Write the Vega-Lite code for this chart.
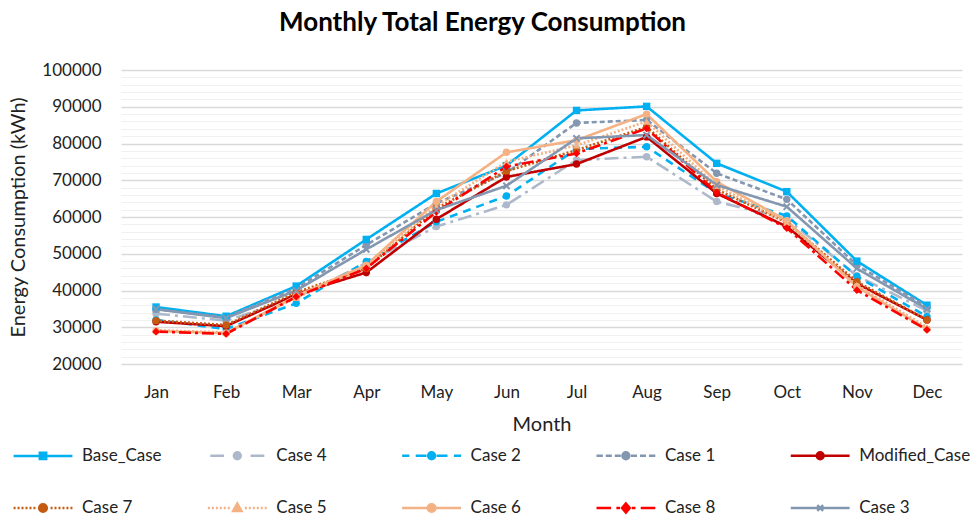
{
  "$schema": "https://vega.github.io/schema/vega-lite/v6.json",
  "width": 841,
  "height": 294,
  "autosize": {"type": "none"},
  "padding": {"left": 121, "top": 70, "right": 13, "bottom": 154},
  "background": "white",
  "config": {
    "font": "Lato",
    "view": {"stroke": null},
    "axis": {"labelFont": "Lato", "titleFont": "Lato", "labelColor": "#222222", "titleColor": "#222222", "titleFontWeight": "normal"},
    "legend": {"labelFont": "Lato"}
  },
  "title": {
    "text": "Monthly Total Energy Consumption",
    "font": "Lato",
    "fontSize": 26,
    "fontWeight": "bold",
    "color": "#000000",
    "anchor": "middle",
    "dx": -59,
    "offset": 25
  },
  "data": {
    "values": [
      {"m":"Jan","s":"Base_Case","v":35500},{"m":"Feb","s":"Base_Case","v":33000},{"m":"Mar","s":"Base_Case","v":41200},{"m":"Apr","s":"Base_Case","v":53900},{"m":"May","s":"Base_Case","v":66400},{"m":"Jun","s":"Base_Case","v":74000},{"m":"Jul","s":"Base_Case","v":89000},{"m":"Aug","s":"Base_Case","v":90100},{"m":"Sep","s":"Base_Case","v":74600},{"m":"Oct","s":"Base_Case","v":66900},{"m":"Nov","s":"Base_Case","v":48000},{"m":"Dec","s":"Base_Case","v":36000},
      {"m":"Jan","s":"Case 4","v":33700},{"m":"Feb","s":"Case 4","v":31800},{"m":"Mar","s":"Case 4","v":38000},{"m":"Apr","s":"Case 4","v":47500},{"m":"May","s":"Case 4","v":57400},{"m":"Jun","s":"Case 4","v":63300},{"m":"Jul","s":"Case 4","v":75500},{"m":"Aug","s":"Case 4","v":76400},{"m":"Sep","s":"Case 4","v":64200},{"m":"Oct","s":"Case 4","v":59500},{"m":"Nov","s":"Case 4","v":44000},{"m":"Dec","s":"Case 4","v":34500},
      {"m":"Jan","s":"Case 2","v":32000},{"m":"Feb","s":"Case 2","v":29500},{"m":"Mar","s":"Case 2","v":36500},{"m":"Apr","s":"Case 2","v":47900},{"m":"May","s":"Case 2","v":58700},{"m":"Jun","s":"Case 2","v":65700},{"m":"Jul","s":"Case 2","v":78500},{"m":"Aug","s":"Case 2","v":79100},{"m":"Sep","s":"Case 2","v":66500},{"m":"Oct","s":"Case 2","v":60300},{"m":"Nov","s":"Case 2","v":43800},{"m":"Dec","s":"Case 2","v":32900},
      {"m":"Jan","s":"Case 1","v":34900},{"m":"Feb","s":"Case 1","v":32700},{"m":"Mar","s":"Case 1","v":40600},{"m":"Apr","s":"Case 1","v":52400},{"m":"May","s":"Case 1","v":63700},{"m":"Jun","s":"Case 1","v":72000},{"m":"Jul","s":"Case 1","v":85600},{"m":"Aug","s":"Case 1","v":86400},{"m":"Sep","s":"Case 1","v":71900},{"m":"Oct","s":"Case 1","v":64800},{"m":"Nov","s":"Case 1","v":46900},{"m":"Dec","s":"Case 1","v":35600},
      {"m":"Jan","s":"Modified_Case","v":31500},{"m":"Feb","s":"Modified_Case","v":30300},{"m":"Mar","s":"Modified_Case","v":39000},{"m":"Apr","s":"Modified_Case","v":44900},{"m":"May","s":"Modified_Case","v":59400},{"m":"Jun","s":"Modified_Case","v":70900},{"m":"Jul","s":"Modified_Case","v":74400},{"m":"Aug","s":"Modified_Case","v":81800},{"m":"Sep","s":"Modified_Case","v":66400},{"m":"Oct","s":"Modified_Case","v":57400},{"m":"Nov","s":"Modified_Case","v":41900},{"m":"Dec","s":"Modified_Case","v":32000},
      {"m":"Jan","s":"Case 7","v":31800},{"m":"Feb","s":"Case 7","v":30600},{"m":"Mar","s":"Case 7","v":39500},{"m":"Apr","s":"Case 7","v":46000},{"m":"May","s":"Case 7","v":62300},{"m":"Jun","s":"Case 7","v":72500},{"m":"Jul","s":"Case 7","v":78200},{"m":"Aug","s":"Case 7","v":84500},{"m":"Sep","s":"Case 7","v":67500},{"m":"Oct","s":"Case 7","v":58500},{"m":"Nov","s":"Case 7","v":42400},{"m":"Dec","s":"Case 7","v":32000},
      {"m":"Jan","s":"Case 5","v":29200},{"m":"Feb","s":"Case 5","v":28600},{"m":"Mar","s":"Case 5","v":38000},{"m":"Apr","s":"Case 5","v":46500},{"m":"May","s":"Case 5","v":63000},{"m":"Jun","s":"Case 5","v":75000},{"m":"Jul","s":"Case 5","v":79500},{"m":"Aug","s":"Case 5","v":86000},{"m":"Sep","s":"Case 5","v":68500},{"m":"Oct","s":"Case 5","v":58500},{"m":"Nov","s":"Case 5","v":41500},{"m":"Dec","s":"Case 5","v":30000},
      {"m":"Jan","s":"Case 6","v":29000},{"m":"Feb","s":"Case 6","v":28400},{"m":"Mar","s":"Case 6","v":38500},{"m":"Apr","s":"Case 6","v":46900},{"m":"May","s":"Case 6","v":64200},{"m":"Jun","s":"Case 6","v":77600},{"m":"Jul","s":"Case 6","v":80900},{"m":"Aug","s":"Case 6","v":88000},{"m":"Sep","s":"Case 6","v":69600},{"m":"Oct","s":"Case 6","v":59000},{"m":"Nov","s":"Case 6","v":41000},{"m":"Dec","s":"Case 6","v":29500},
      {"m":"Jan","s":"Case 8","v":28800},{"m":"Feb","s":"Case 8","v":28200},{"m":"Mar","s":"Case 8","v":38300},{"m":"Apr","s":"Case 8","v":46000},{"m":"May","s":"Case 8","v":61400},{"m":"Jun","s":"Case 8","v":73700},{"m":"Jul","s":"Case 8","v":77300},{"m":"Aug","s":"Case 8","v":84100},{"m":"Sep","s":"Case 8","v":66700},{"m":"Oct","s":"Case 8","v":57000},{"m":"Nov","s":"Case 8","v":40100},{"m":"Dec","s":"Case 8","v":29300},
      {"m":"Jan","s":"Case 3","v":34900},{"m":"Feb","s":"Case 3","v":32500},{"m":"Mar","s":"Case 3","v":40000},{"m":"Apr","s":"Case 3","v":51200},{"m":"May","s":"Case 3","v":61900},{"m":"Jun","s":"Case 3","v":68500},{"m":"Jul","s":"Case 3","v":81400},{"m":"Aug","s":"Case 3","v":82300},{"m":"Sep","s":"Case 3","v":68700},{"m":"Oct","s":"Case 3","v":62800},{"m":"Nov","s":"Case 3","v":46000},{"m":"Dec","s":"Case 3","v":35000}
    ]
  },
  "encoding": {
    "x": {
      "field": "m", "type": "ordinal",
      "scale": {"type": "point", "padding": 0.5, "domain": ["Jan","Feb","Mar","Apr","May","Jun","Jul","Aug","Sep","Oct","Nov","Dec"]},
      "axis": {"title": "Month", "labelAngle": 0, "labelFontSize": 17, "labelPadding": 20, "titleFontSize": 20, "titlePadding": 14, "domain": false, "ticks": false, "grid": false}
    },
    "y": {
      "field": "v", "type": "quantitative",
      "scale": {"domain": [20000, 100000], "nice": false, "zero": false},
      "axis": {
        "title": "Energy Consumption (kWh)",
        "values": [20000,22000,24000,26000,28000,30000,32000,34000,36000,38000,40000,42000,44000,46000,48000,50000,52000,54000,56000,58000,60000,62000,64000,66000,68000,70000,72000,74000,76000,78000,80000,82000,84000,86000,88000,90000,92000,94000,96000,98000,100000],
        "format": "d",
        "labelExpr": "datum.value % 10000 === 0 ? datum.label : ''",
        "labelFontSize": 17, "labelPadding": 20,
        "titleFontSize": 20, "titlePadding": 13,
        "domain": false, "ticks": false, "grid": true,
        "gridColor": {"condition": {"test": "datum.value % 10000 === 0", "value": "#d9d9d9"}, "value": "#f0f0f0"},
        "gridWidth": {"condition": {"test": "datum.value % 10000 === 0", "value": 1.4}, "value": 1.2}
      }
    }
  },
  "layer": [
    {
      "mark": {"type": "line", "strokeWidth": 2.6},
      "encoding": {
        "color": {"field": "s", "type": "nominal", "legend": null,
          "scale": {"domain": ["Base_Case","Case 1","Case 2","Case 3","Case 4","Case 5","Case 6","Case 7","Case 8","Modified_Case"],
                    "range": ["#00B0F0","#8497B0","#00B0F0","#8497B0","#ADB9CA","#F4B183","#F4B183","#C55A11","#FF0000","#C00000"]}},
        "strokeDash": {"field": "s", "type": "nominal", "legend": null,
          "scale": {"domain": ["Base_Case","Case 1","Case 2","Case 3","Case 4","Case 5","Case 6","Case 7","Case 8","Modified_Case"],
                    "range": [[1,0],[5,3],[8,6],[1,0],[14,5,3,5],[2,2],[1,0],[2,2],[12,4,3,4],[1,0]]}}
      }
    },
    {
      "transform": [{"filter": {"field": "s", "oneOf": ["Case 4","Case 2","Case 1","Modified_Case","Case 7","Case 6"]}}],
      "mark": {"type": "point", "shape": "circle", "filled": true, "opacity": 1, "size": 55},
      "encoding": {"color": {"field": "s", "type": "nominal", "legend": null}}
    },
    {
      "transform": [{"filter": {"field": "s", "equal": "Base_Case"}}],
      "mark": {"type": "point", "shape": "square", "filled": true, "opacity": 1, "size": 55},
      "encoding": {"color": {"field": "s", "type": "nominal", "legend": null}}
    },
    {
      "transform": [{"filter": {"field": "s", "equal": "Case 5"}}],
      "mark": {"type": "point", "shape": "triangle-up", "filled": true, "opacity": 1, "size": 55},
      "encoding": {"color": {"field": "s", "type": "nominal", "legend": null}}
    },
    {
      "transform": [{"filter": {"field": "s", "equal": "Case 8"}}],
      "mark": {"type": "point", "shape": "diamond", "filled": true, "opacity": 1, "size": 60},
      "encoding": {"color": {"field": "s", "type": "nominal", "legend": null}}
    },
    {
      "transform": [{"filter": {"field": "s", "equal": "Case 3"}}],
      "mark": {"type": "point", "shape": "M-1,-1L1,1M-1,1L1,-1", "filled": false, "opacity": 1, "size": 40, "strokeWidth": 2},
      "encoding": {"color": {"field": "s", "type": "nominal", "legend": null}}
    },
    {
      "transform": [{"filter": "false"}],
      "mark": {"type": "point", "filled": true, "opacity": 1, "strokeWidth": 2.5},
      "encoding": {
        "fill": {"field": "s", "type": "nominal",
          "scale": {"domain": ["Base_Case","Case 4","Case 2","Case 1","Modified_Case","Case 7","Case 5","Case 6","Case 8","Case 3"],
                    "range": ["#00B0F0","#ADB9CA","#00B0F0","#8497B0","#C00000","#C55A11","#F4B183","#F4B183","#FF0000","#8497B0"]},
          "legend": {"title": null, "orient": "none", "legendX": -106, "legendY": 357, "direction": "horizontal", "columns": 5, "gridAlign": "all", "columnPadding": 9.3, "rowPadding": 15, "symbolSize": 2809, "symbolStrokeWidth": 2.5, "symbolOpacity": 1, "labelOffset": 11, "labelFontSize": 17, "labelColor": "#222222", "padding": 0, "labelLimit": 200}},
        "stroke": {"field": "s", "type": "nominal",
          "scale": {"domain": ["Base_Case","Case 4","Case 2","Case 1","Modified_Case","Case 7","Case 5","Case 6","Case 8","Case 3"],
                    "range": ["#00B0F0","#ADB9CA","#00B0F0","#8497B0","#C00000","#C55A11","#F4B183","#F4B183","#FF0000","#8497B0"]},
          "legend": {"title": null, "orient": "none", "legendX": -106, "legendY": 357, "direction": "horizontal", "columns": 5, "gridAlign": "all", "columnPadding": 9.3, "rowPadding": 15, "symbolSize": 2809, "symbolStrokeWidth": 2.5, "symbolOpacity": 1, "labelOffset": 11, "labelFontSize": 17, "labelColor": "#222222", "padding": 0, "labelLimit": 200}},
        "shape": {"field": "s", "type": "nominal",
          "scale": {"domain": ["Base_Case","Case 4","Case 2","Case 1","Modified_Case","Case 7","Case 5","Case 6","Case 8","Case 3"],
                    "range": [
                      "M-1.11,0H1.11M-0.12,-0.12H0.12V0.12H-0.12Z",
                      "M-1.02,0H-0.5M0.5,0H1.02M-0.13,0A0.13,0.13 0 1,0 0.13,0A0.13,0.13 0 1,0 -0.13,0Z",
                      "M-1.11,0H-0.84M-0.6,0H-0.19M0.19,0H0.6M0.84,0H1.11M-0.13,0A0.13,0.13 0 1,0 0.13,0A0.13,0.13 0 1,0 -0.13,0Z",
                      "M-1.11,0H-0.87M-0.76,0H-0.53M-0.42,0H-0.19M0.19,0H0.42M0.53,0H0.76M0.87,0H1.11M-0.13,0A0.13,0.13 0 1,0 0.13,0A0.13,0.13 0 1,0 -0.13,0Z",
                      "M-1.11,0H1.11M-0.13,0A0.13,0.13 0 1,0 0.13,0A0.13,0.13 0 1,0 -0.13,0Z",
                      "M-1.11,0H-1.035M-0.96,0H-0.885M-0.81,0H-0.735M-0.66,0H-0.585M-0.51,0H-0.435M-0.36,0H-0.285M0.285,0H0.36M0.435,0H0.51M0.585,0H0.66M0.735,0H0.81M0.885,0H0.96M1.035,0H1.11M-0.145,0A0.145,0.145 0 1,0 0.145,0A0.145,0.145 0 1,0 -0.145,0Z",
                      "M-1.11,0H-1.035M-0.96,0H-0.885M-0.81,0H-0.735M-0.66,0H-0.585M-0.51,0H-0.435M-0.36,0H-0.285M0.285,0H0.36M0.435,0H0.51M0.585,0H0.66M0.735,0H0.81M0.885,0H0.96M1.035,0H1.11M0,-0.17L0.155,0.11L-0.155,0.11Z",
                      "M-1.11,0H1.11M-0.145,0A0.145,0.145 0 1,0 0.145,0A0.145,0.145 0 1,0 -0.145,0Z",
                      "M-1.11,0H-0.56M-0.36,0H-0.22M0.22,0H0.36M0.56,0H1.11M0,-0.17L0.145,0L0,0.17L-0.145,0Z",
                      "M-1.11,0H1.11M-0.11,-0.11L0.11,0.11M-0.11,0.11L0.11,-0.11"
                    ]},
          "legend": {"title": null, "orient": "none", "legendX": -106, "legendY": 357, "direction": "horizontal", "columns": 5, "gridAlign": "all", "columnPadding": 9.3, "rowPadding": 15, "symbolSize": 2809, "symbolStrokeWidth": 2.5, "symbolOpacity": 1, "labelOffset": 11, "labelFontSize": 17, "labelColor": "#222222", "padding": 0, "labelLimit": 200}}
      }
    }
  ]
}
